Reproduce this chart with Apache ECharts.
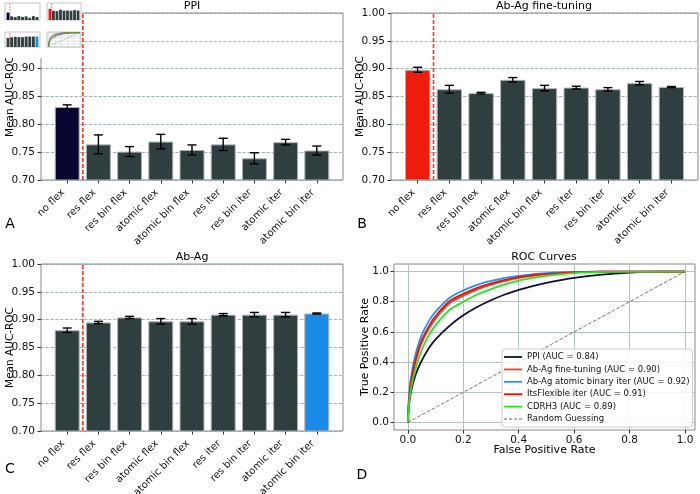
<!DOCTYPE html>
<html>
<head>
<meta charset="utf-8">
<script src="https://cdn.jsdelivr.net/npm/echarts@6/dist/echarts.min.js"></script>
<style>
  html, body { margin: 0; padding: 0; background: #fff; }
  #chart { width: 700px; height: 494px; }
</style>
</head>
<body>
<div id="chart"></div>
<script>
// bar panels: one mean and one error per category
const categories = ['no flex', 'res flex', 'res bin flex', 'atomic flex', 'atomic bin flex',
  'res iter', 'res bin iter', 'atomic iter', 'atomic bin iter'];
const ppiMean = [0.831, 0.764, 0.751, 0.769, 0.754, 0.764, 0.739, 0.768, 0.753];
const ppiErr = [0.004, 0.017, 0.009, 0.013, 0.009, 0.011, 0.010, 0.005, 0.008];
const ftMean = [0.898, 0.863, 0.856, 0.880, 0.865, 0.866, 0.863, 0.874, 0.867];
const ftErr = [0.0045, 0.007, 0.0015, 0.004, 0.005, 0.0025, 0.003, 0.003, 0.001];
const abagMean = [0.881, 0.895, 0.904, 0.897, 0.897, 0.909, 0.909, 0.909, 0.911];
const abagErr = [0.004, 0.002, 0.002, 0.005, 0.005, 0.002, 0.004, 0.004, 0.001];

// ROC curves
const rocFpr = [0, 0.002, 0.005, 0.01, 0.02, 0.035, 0.05, 0.075, 0.1, 0.15, 0.2, 0.25, 0.3, 0.35, 0.4, 0.45, 0.5, 0.6, 0.7, 0.8, 0.9, 1.0];
const tprPpi = [0, 0.07, 0.13, 0.19, 0.27, 0.35, 0.41, 0.49, 0.55, 0.64, 0.71, 0.765, 0.81, 0.848, 0.878, 0.904, 0.925, 0.958, 0.98, 0.993, 0.999, 1];
const tprFineTune = [0, 0.08, 0.16, 0.24, 0.34, 0.45, 0.53, 0.62, 0.69, 0.79, 0.84, 0.882, 0.913, 0.938, 0.958, 0.972, 0.982, 0.994, 0.999, 1, 1, 1];
const tprAtomicBin = [0, 0.1, 0.19, 0.28, 0.39, 0.5, 0.58, 0.67, 0.735, 0.825, 0.875, 0.912, 0.938, 0.958, 0.972, 0.982, 0.99, 0.997, 1, 1, 1, 1];
const tprItsFlex = [0, 0.085, 0.17, 0.255, 0.355, 0.465, 0.545, 0.635, 0.705, 0.803, 0.852, 0.892, 0.922, 0.945, 0.963, 0.976, 0.985, 0.995, 0.999, 1, 1, 1];
const tprCdrh3 = [0, 0.07, 0.14, 0.21, 0.3, 0.4, 0.48, 0.575, 0.645, 0.745, 0.80, 0.848, 0.884, 0.915, 0.94, 0.958, 0.972, 0.99, 0.998, 1, 1, 1];
const rocNames = ['PPI (AUC = 0.84)', 'Ab-Ag fine-tuning (AUC = 0.90)', 'Ab-Ag atomic binary iter (AUC = 0.92)',
  'ItsFlexible iter (AUC = 0.91)', 'CDRH3 (AUC = 0.89)'];
const rocTicks = [0, 0.2, 0.4, 0.6, 0.8, 1.0];

const FONT = 'DejaVu Sans';
const BAR = '#2f3e3e';
const rocCurves = [
  {name: rocNames[0], tpr: tprPpi, color: '#0e0e3a'},
  {name: rocNames[1], tpr: tprFineTune, color: '#ff3a1e'},
  {name: rocNames[2], tpr: tprAtomicBin, color: '#2a93ea'},
  {name: rocNames[3], tpr: tprItsFlex, color: '#f01010'},
  {name: rocNames[4], tpr: tprCdrh3, color: '#22e622'}
];

const grids = [], xAxes = [], yAxes = [], series = [];
const idx = categories.map((c, i) => i);

// error bars, rotated category labels and the red divider after "no flex"
function makeOverlay(mini) {
  return function (params, api) {
    const x = api.value(0), m = api.value(1), e = api.value(2);
    const base = api.coord([x, 0.7]);
    const children = [];
    if (!mini) {
      const hi = api.coord([x, m + e]), lo = api.coord([x, m - e]);
      const w = 4.5;
      const style = {stroke: '#000', lineWidth: 1.4};
      children.push(
        {type: 'line', shape: {x1: hi[0], y1: hi[1], x2: lo[0], y2: lo[1]}, style: style},
        {type: 'line', shape: {x1: hi[0] - w, y1: hi[1], x2: hi[0] + w, y2: hi[1]}, style: style},
        {type: 'line', shape: {x1: lo[0] - w, y1: lo[1], x2: lo[0] + w, y2: lo[1]}, style: style},
        {type: 'text', x: base[0] - 4, y: base[1] + 11, rotation: Math.PI / 4,
          style: {text: categories[x], fontSize: 10, fontFamily: FONT, fill: '#111',
            align: 'right', verticalAlign: 'middle'}}
      );
    }
    if (params.dataIndex === 0) {
      const a = api.coord([0.5, 0.7]), b = api.coord([0.5, 1.0]);
      children.push({type: 'line', shape: {x1: a[0], y1: a[1], x2: b[0], y2: b[1]},
        style: {stroke: '#ff3030', lineWidth: mini ? 0.6 : 1.6, lineDash: mini ? [2, 1] : [4, 2]}});
    }
    return {type: 'group', children: children};
  };
}

function addBarPanel(rect, means, errs, hiIndex, hiColor, mini) {
  const gi = grids.length;
  const z = mini ? 60 : 0;
  grids.push(Object.assign({show: true, borderColor: '#888', borderWidth: mini ? 0.5 : 1,
    backgroundColor: mini ? '#fff' : 'transparent', z: z, outerBoundsMode: 'none'}, rect));
  xAxes.push({
    gridIndex: gi, type: 'value', min: -0.84, max: 8.84, z: z,
    axisLine: {show: false, onZero: false}, splitLine: {show: false},
    axisTick: {show: !mini, customValues: idx, length: 3.5, lineStyle: {color: '#333'}},
    axisLabel: {show: false}
  });
  yAxes.push({
    gridIndex: gi, type: 'value', min: 0.7, max: 1.0, interval: 0.05, z: z,
    name: mini ? '' : 'Mean AUC-ROC', nameLocation: 'middle', nameGap: 25, nameMoveOverlap: false,
    nameTextStyle: {fontSize: 10.5, fontFamily: FONT, color: '#000'},
    axisLine: {show: false, onZero: false},
    axisTick: {show: !mini, length: 3.5, lineStyle: {color: '#333'}},
    axisLabel: {show: !mini, margin: 6, fontSize: 10.5, fontFamily: FONT, color: '#111',
      formatter: v => v.toFixed(2)},
    splitLine: {show: !mini, lineStyle: {type: 'dashed', color: '#8aa0a0', width: 0.8}}
  });
  series.push({
    type: 'bar', name: 'bars' + gi, xAxisIndex: gi, yAxisIndex: gi, z: z + 2, barWidth: '80%',
    data: means.map((m, i) => ({value: [i, m], itemStyle: {color: i === hiIndex ? hiColor : BAR}})),
    itemStyle: {borderColor: '#aab4b4', borderWidth: mini ? 0 : 1}
  });
  series.push({
    type: 'custom', name: 'overlay' + gi, xAxisIndex: gi, yAxisIndex: gi, z: z + 3, clip: false,
    renderItem: makeOverlay(mini), encode: {x: 0, y: 1},
    data: means.map((m, i) => [i, m, errs[i]])
  });
}

function addRocPanel(rect, mini) {
  const gi = grids.length;
  const z = mini ? 60 : 0;
  const gridStyle = {type: 'solid', color: '#b5c0c0', width: mini ? 0.4 : 1};
  grids.push(Object.assign({show: true, borderColor: '#888', borderWidth: mini ? 0.5 : 1,
    backgroundColor: mini ? '#fff' : 'transparent', z: z, outerBoundsMode: 'none'}, rect));
  const ax = (name, gap, min, max) => ({
    gridIndex: gi, type: 'value', min: min, max: max, z: z,
    name: mini ? '' : name, nameLocation: 'middle', nameGap: gap, nameMoveOverlap: false,
    nameTextStyle: {fontSize: 11, fontFamily: FONT, color: '#000'},
    axisLine: {show: false, onZero: false}, splitLine: {show: false},
    axisTick: {show: !mini, customValues: rocTicks, length: 3.5, lineStyle: {color: '#333'}},
    axisLabel: {show: !mini, customValues: rocTicks, margin: 5, fontSize: 10.5, fontFamily: FONT,
      color: '#111', formatter: v => v.toFixed(1)}
  });
  xAxes.push(ax('False Positive Rate', 15, -0.05, 1.036));
  yAxes.push(ax('True Positive Rate', 23, -0.05, 1.05));
  series.push({
    type: 'line', name: 'gridlines' + gi, xAxisIndex: gi, yAxisIndex: gi, data: [], silent: true,
    markLine: {
      silent: true, symbol: ['none', 'none'], label: {show: false}, z: z + 1,
      lineStyle: gridStyle,
      data: rocTicks.map(v => ({xAxis: v, lineStyle: gridStyle}))
        .concat(rocTicks.map(v => ({yAxis: v, lineStyle: gridStyle})))
    }
  });
  rocCurves.forEach(c => {
    series.push({
      type: 'line', name: mini ? 'mini ' + c.name : c.name, xAxisIndex: gi, yAxisIndex: gi,
      z: z + 2, symbol: 'none', showSymbol: false, smooth: 0.35,
      lineStyle: {color: c.color, width: mini ? 0.6 : 1.8}, itemStyle: {color: c.color},
      data: rocFpr.map((f, i) => [f, c.tpr[i]])
    });
  });
  series.push({
    type: 'line', name: mini ? 'mini Random Guessing' : 'Random Guessing', xAxisIndex: gi, yAxisIndex: gi,
    z: z + 2, symbol: 'none', showSymbol: false,
    lineStyle: {color: '#666', type: 'dashed', width: mini ? 0.4 : 0.9}, itemStyle: {color: '#666'},
    data: [[0, 0], [1, 1]]
  });
}

// main panels
addBarPanel({left: 41, top: 13, width: 302, height: 167}, ppiMean, ppiErr, 0, '#06062e', false);
addBarPanel({left: 391, top: 13, width: 307, height: 167}, ftMean, ftErr, 0, '#ee1c0a', false);
addBarPanel({left: 41, top: 264, width: 302, height: 167}, abagMean, abagErr, 8, '#1a8ce8', false);
addRocPanel({left: 394, top: 264, width: 301, height: 166}, false);
// small thumbnail in the top-left corner
addBarPanel({left: 5, top: 3, width: 35, height: 17}, ppiMean, ppiErr, 0, '#06062e', true);
addBarPanel({left: 47, top: 3, width: 34, height: 17}, ftMean, ftErr, 0, '#ee1c0a', true);
addBarPanel({left: 5, top: 32, width: 35, height: 15}, abagMean, abagErr, 8, '#1a8ce8', true);
addRocPanel({left: 47, top: 32, width: 34, height: 15}, true);

const txt = (s, x, y, size) => ({
  type: 'text', x: x, y: y, z: 100,
  style: {text: s, fontSize: size, fontFamily: FONT, fill: '#000', align: 'center', verticalAlign: 'middle'}
});

const lineIcon = 'path://M0,0H20V2H0Z';
const dashIcon = 'path://M0,0H3V1H0Z M5,0H8V1H5Z M10,0H13V1H10Z M15,0H18V1H15Z';

const chart = echarts.init(document.getElementById('chart'));
chart.setOption({
  animation: false,
  backgroundColor: '#fff',
  grid: grids,
  xAxis: xAxes,
  yAxis: yAxes,
  series: series,
  legend: {
    data: rocNames.map(n => ({name: n, icon: lineIcon})).concat([{name: 'Random Guessing', icon: dashIcon}]),
    orient: 'vertical', left: 502, top: 349,
    padding: [3, 3, 3, 2], itemGap: 2.4, itemWidth: 18, itemHeight: 9,
    backgroundColor: 'rgba(255,255,255,0.85)', borderColor: '#ccc', borderWidth: 1, borderRadius: 3,
    textStyle: {fontSize: 8.5, fontFamily: FONT, color: '#111', lineHeight: 10}
  },
  graphic: [
    {type: 'rect', shape: {x: 0, y: 0, width: 82, height: 58}, style: {fill: '#fff'}, z: 50},
    txt('PPI', 192, 6, 11),
    txt('Ab-Ag fine-tuning', 544, 6, 11),
    txt('Ab-Ag', 192, 257, 11),
    txt('ROC Curves', 544, 257, 11),
    txt('A', 10, 224, 14),
    txt('B', 362, 224, 14),
    txt('C', 10, 469, 14),
    txt('D', 362, 475, 14)
  ]
});
</script>
</body>
</html>
